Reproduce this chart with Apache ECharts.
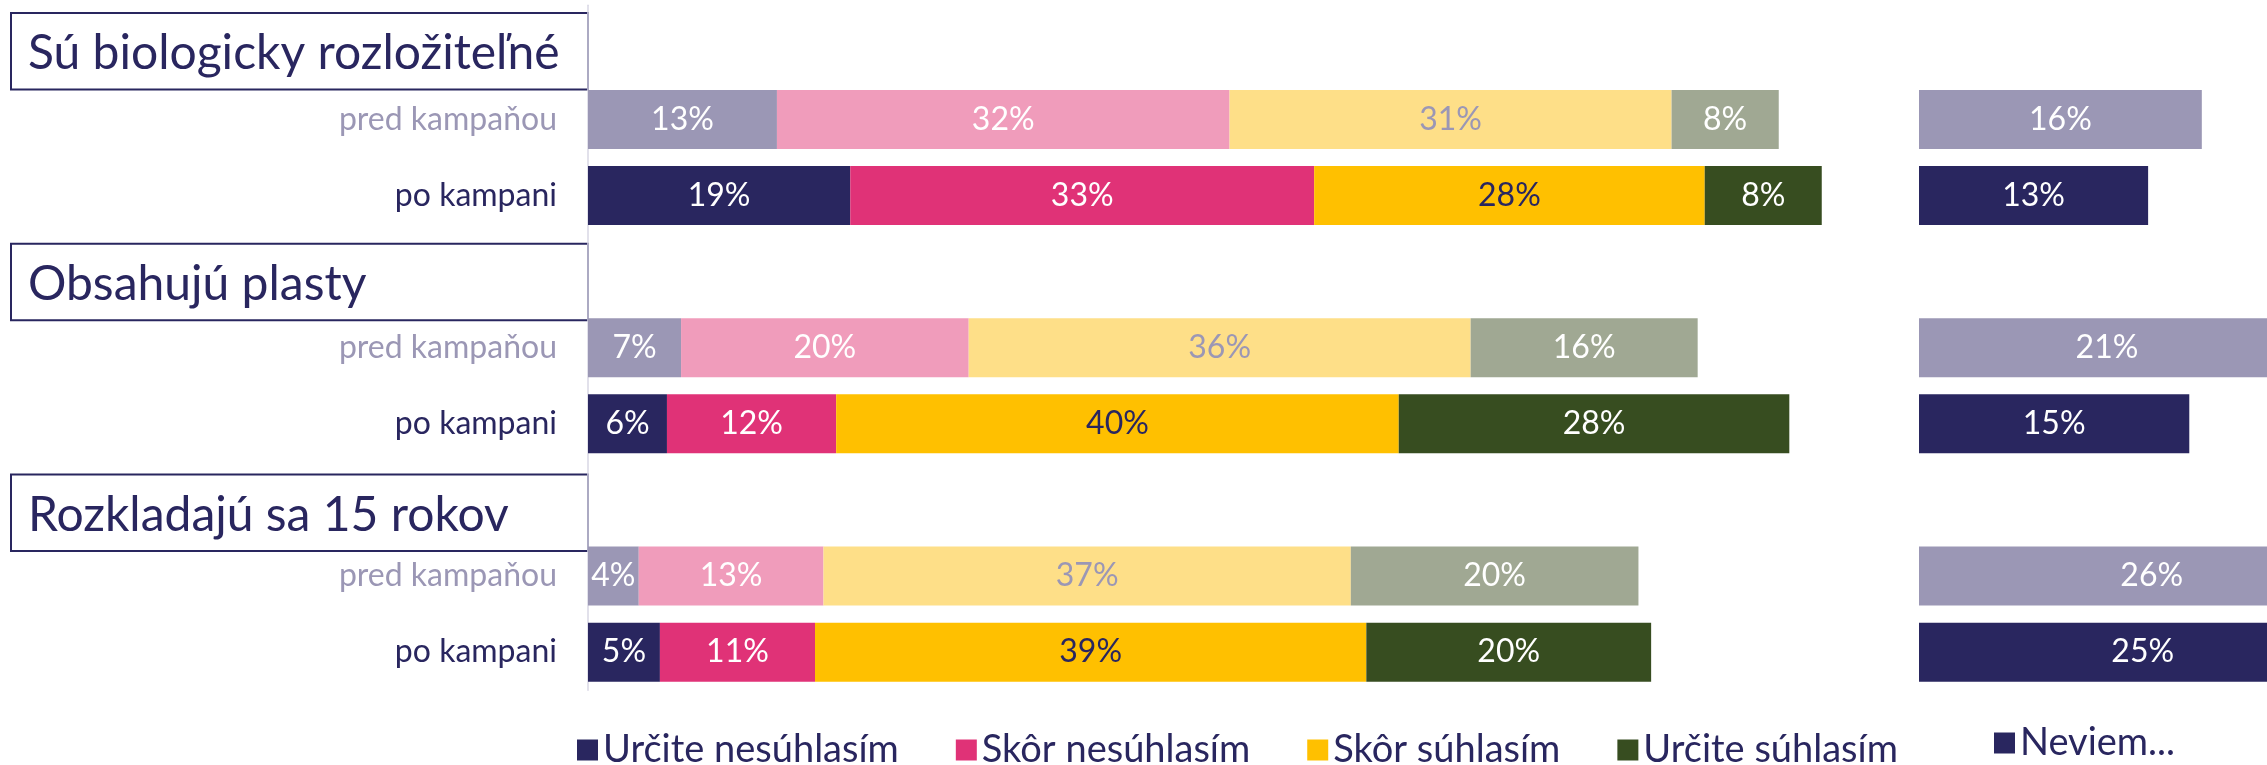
<!DOCTYPE html>
<html>
<head>
<meta charset="utf-8">
<script src="https://cdn.jsdelivr.net/npm/echarts@6/dist/echarts.min.js"></script>
<style>
  html, body { margin: 0; padding: 0; background: #fff; }
  #main { width: 2267px; height: 765px; }
</style>
</head>
<body>
<div id="main"></div>
<script>
// témy a riadky
var topics = ['Sú biologicky rozložiteľné', 'Obsahujú plasty', 'Rozkladajú sa 15 rokov'];
var rows = ['pred kampaňou', 'po kampani'];

// hodnoty v % pre každú tému: [pred kampaňou, po kampani]
var urciteNesuhlasim = [[13.4, 18.6], [6.6, 5.6], [3.6, 5.1]];
var skorNesuhlasim   = [[32.1, 32.9], [20.4, 12.0], [13.1, 11.0]];
var skorSuhlasim     = [[31.35, 27.7], [35.6, 39.9], [37.4, 39.1]];
var urciteSuhlasim   = [[7.6, 8.3], [16.1, 27.7], [20.4, 20.2]];
var neviem           = [[15.8, 12.8], [21, 15.1], [26, 25]];

var answerNames = ['Určite nesúhlasím', 'Skôr nesúhlasím', 'Skôr súhlasím', 'Určite súhlasím'];
var answerValues = [urciteNesuhlasim, skorNesuhlasim, skorSuhlasim, urciteSuhlasim];

var darkColors  = ['#29265f', '#e03277', '#ffc000', '#374d20'];
var lightColors = ['#9b97b5', '#f09cbb', '#fedf88', '#a0a893'];
var darkLabel   = ['#ffffff', '#ffffff', '#29265f', '#ffffff'];
var lightLabel  = ['#ffffff', '#ffffff', '#9b97b5', '#ffffff'];

var FONT = 'Lato';
var NAVY = '#29265f';

// kategórie osi: pre každú tému prázdny riadok (nadpis) + pred + po
var yCats = [];
topics.forEach(function () { yCats.push(''); rows.forEach(function (r) { yCats.push(r); }); });

function buildData(vals, dark, light, dLab, lLab) {
    var out = [];
    vals.forEach(function (pair) {
        out.push('-');
        out.push({ value: pair[0], itemStyle: { color: light }, label: { color: lLab } });
        out.push({ value: pair[1], itemStyle: { color: dark }, label: { color: dLab } });
    });
    return out;
}

var gridTop = 5.3, slot = 76.1, gridH = slot * yCats.length;
var pctLabel = function (p) { return Math.round(p.value) + '%'; };

var series = [];
answerNames.forEach(function (name, i) {
    series.push({
        name: name,
        type: 'bar',
        stack: 'main',
        xAxisIndex: 0,
        yAxisIndex: 0,
        barWidth: 59,
        itemStyle: { color: darkColors[i] },
        label: { show: true, position: 'inside', fontFamily: FONT, fontSize: 32, formatter: pctLabel },
        data: buildData(answerValues[i], darkColors[i], lightColors[i], darkLabel[i], lightLabel[i])
    });
});
// Neviem - vlastná mierka, pretŕča za pravý okraj
series.push({
    name: 'Neviem...',
    type: 'bar',
    xAxisIndex: 1,
    yAxisIndex: 1,
    barWidth: 59,
    clip: false,
    itemStyle: { color: NAVY },
    label: { show: true, position: 'inside', fontFamily: FONT, fontSize: 32, formatter: pctLabel },
    data: buildData(neviem, NAVY, '#9b97b5', '#ffffff', '#ffffff')
});

// rámčeky s nadpismi tém
var graphics = topics.map(function (t, k) {
    return {
        type: 'group',
        left: 10,
        top: 12 + k * 230.8,
        children: [
            { type: 'rect', shape: { x: 0, y: 0, width: 577, height: 76.5 },
              style: { fill: '#fff', stroke: NAVY, lineWidth: 2 } },
            { type: 'text', x: 17, y: 41,
              style: { text: t, fill: NAVY, font: '48px Lato', verticalAlign: 'middle' } }
        ]
    };
});

var myChart = echarts.init(document.getElementById('main'));
myChart.setOption({
    animation: false,
    textStyle: { fontFamily: FONT },
    legend: [
        {
            data: answerNames,
            left: 577,
            top: 731,
            padding: 0,
            itemWidth: 21,
            itemHeight: 21,
            itemGap: 57,
            icon: 'rect',
            textStyle: { color: NAVY, fontSize: 38, fontFamily: FONT }
        },
        {
            data: ['Neviem...'],
            left: 1994,
            top: 724,
            padding: 0,
            itemWidth: 21,
            itemHeight: 21,
            icon: 'rect',
            textStyle: { color: NAVY, fontSize: 38, fontFamily: FONT }
        }
    ],
    grid: [
        { left: 588, top: gridTop, width: 1410, height: gridH },
        { left: 1919, top: gridTop, right: 0, height: gridH }
    ],
    xAxis: [
        { type: 'value', gridIndex: 0, min: 0, max: 100, show: false },
        { type: 'value', gridIndex: 1, min: 0, max: 348 / 17.9, show: false }
    ],
    yAxis: [
        {
            type: 'category',
            gridIndex: 0,
            inverse: true,
            data: yCats,
            axisLine: { lineStyle: { color: '#d8d7e5', width: 1.5 } },
            axisTick: { show: false },
            axisLabel: {
                margin: 31,
                fontFamily: FONT,
                fontSize: 32,
                color: function (value) { return value === 'pred kampaňou' ? '#9b97b5' : NAVY; }
            }
        },
        {
            type: 'category',
            gridIndex: 1,
            inverse: true,
            data: yCats,
            show: false
        }
    ],
    graphic: graphics,
    series: series
});
</script>
</body>
</html>
